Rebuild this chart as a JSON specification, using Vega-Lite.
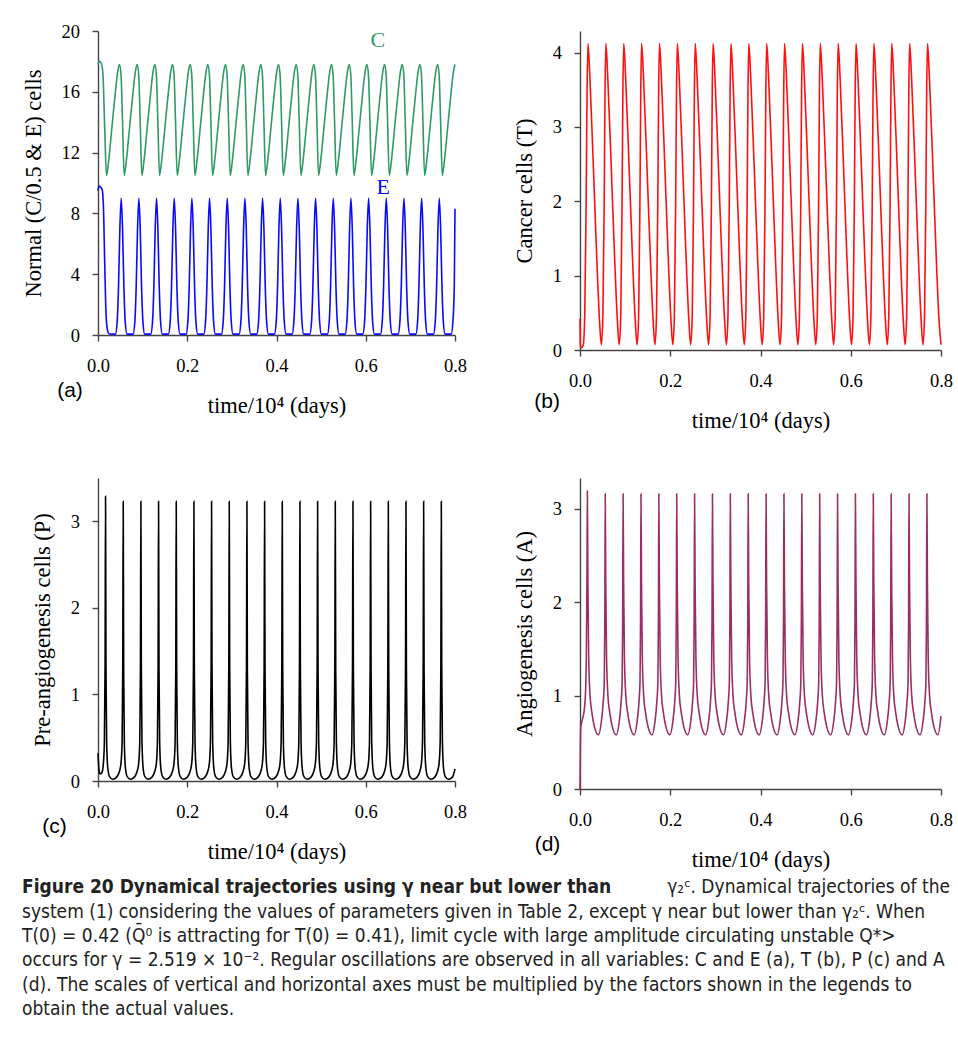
{
"$schema": "https://vega.github.io/schema/vega-lite/v6.json",
"background": "white",
"padding": {"left": 22, "top": 22, "right": 4, "bottom": 4},
"config": {
  "view": {"stroke": null},
  "line": {"interpolate": "monotone", "strokeWidth": 1.6},
  "axis": {"domainColor": "#444", "domainWidth": 1.4, "tickColor": "#444", "tickWidth": 1.4, "tickSize": 6, "grid": false,
    "labelFont": "Liberation Serif", "labelFontSize": 18.5, "labelColor": "#000",
    "titleFont": "Liberation Serif", "titleFontSize": 22.5, "titleFontWeight": "normal", "titleColor": "#000"},
  "axisX": {"labelFlush": false, "labelPadding": 15, "titlePadding": 20, "labelOverlap": false},
  "axisY": {"labelPadding": 12.5, "titlePadding": 16}
},
"datasets": {
"C": [
{"t":0,"v":17.85},{"t":0.003,"v":18},{"t":0.007,"v":17.9},{"t":0.011,"v":17.2},{"t":0.015,"v":13.6},
{"t":0.019,"v":10.5},{"t":0.024,"v":11.5},{"t":0.031,"v":13.6},{"t":0.039,"v":16},{"t":0.044,"v":17.3},{"t":0.048,"v":17.8},{"t":0.0515,"v":17.2},{"t":0.055,"v":14},
{"t":0.0586,"v":10.5},{"t":0.0636,"v":11.5},{"t":0.0706,"v":13.6},{"t":0.0786,"v":16},{"t":0.0836,"v":17.3},{"t":0.0876,"v":17.8},{"t":0.0911,"v":17.2},{"t":0.0946,"v":14},
{"t":0.0982,"v":10.5},{"t":0.1032,"v":11.5},{"t":0.1102,"v":13.6},{"t":0.1182,"v":16},{"t":0.1232,"v":17.3},{"t":0.1272,"v":17.8},{"t":0.1307,"v":17.2},{"t":0.1342,"v":14},
{"t":0.1378,"v":10.5},{"t":0.1428,"v":11.5},{"t":0.1498,"v":13.6},{"t":0.1578,"v":16},{"t":0.1628,"v":17.3},{"t":0.1668,"v":17.8},{"t":0.1703,"v":17.2},{"t":0.1738,"v":14},
{"t":0.1774,"v":10.5},{"t":0.1824,"v":11.5},{"t":0.1894,"v":13.6},{"t":0.1974,"v":16},{"t":0.2024,"v":17.3},{"t":0.2064,"v":17.8},{"t":0.2099,"v":17.2},{"t":0.2134,"v":14},
{"t":0.217,"v":10.5},{"t":0.222,"v":11.5},{"t":0.229,"v":13.6},{"t":0.237,"v":16},{"t":0.242,"v":17.3},{"t":0.246,"v":17.8},{"t":0.2495,"v":17.2},{"t":0.253,"v":14},
{"t":0.2566,"v":10.5},{"t":0.2616,"v":11.5},{"t":0.2686,"v":13.6},{"t":0.2766,"v":16},{"t":0.2816,"v":17.3},{"t":0.2856,"v":17.8},{"t":0.2891,"v":17.2},{"t":0.2926,"v":14},
{"t":0.2962,"v":10.5},{"t":0.3012,"v":11.5},{"t":0.3082,"v":13.6},{"t":0.3162,"v":16},{"t":0.3212,"v":17.3},{"t":0.3252,"v":17.8},{"t":0.3287,"v":17.2},{"t":0.3322,"v":14},
{"t":0.3358,"v":10.5},{"t":0.3408,"v":11.5},{"t":0.3478,"v":13.6},{"t":0.3558,"v":16},{"t":0.3608,"v":17.3},{"t":0.3648,"v":17.8},{"t":0.3683,"v":17.2},{"t":0.3718,"v":14},
{"t":0.3754,"v":10.5},{"t":0.3804,"v":11.5},{"t":0.3874,"v":13.6},{"t":0.3954,"v":16},{"t":0.4004,"v":17.3},{"t":0.4044,"v":17.8},{"t":0.4079,"v":17.2},{"t":0.4114,"v":14},
{"t":0.415,"v":10.5},{"t":0.42,"v":11.5},{"t":0.427,"v":13.6},{"t":0.435,"v":16},{"t":0.44,"v":17.3},{"t":0.444,"v":17.8},{"t":0.4475,"v":17.2},{"t":0.451,"v":14},
{"t":0.4546,"v":10.5},{"t":0.4596,"v":11.5},{"t":0.4666,"v":13.6},{"t":0.4746,"v":16},{"t":0.4796,"v":17.3},{"t":0.4836,"v":17.8},{"t":0.4871,"v":17.2},{"t":0.4906,"v":14},
{"t":0.4942,"v":10.5},{"t":0.4992,"v":11.5},{"t":0.5062,"v":13.6},{"t":0.5142,"v":16},{"t":0.5192,"v":17.3},{"t":0.5232,"v":17.8},{"t":0.5267,"v":17.2},{"t":0.5302,"v":14},
{"t":0.5338,"v":10.5},{"t":0.5388,"v":11.5},{"t":0.5458,"v":13.6},{"t":0.5538,"v":16},{"t":0.5588,"v":17.3},{"t":0.5628,"v":17.8},{"t":0.5663,"v":17.2},{"t":0.5698,"v":14},
{"t":0.5734,"v":10.5},{"t":0.5784,"v":11.5},{"t":0.5854,"v":13.6},{"t":0.5934,"v":16},{"t":0.5984,"v":17.3},{"t":0.6024,"v":17.8},{"t":0.6059,"v":17.2},{"t":0.6094,"v":14},
{"t":0.613,"v":10.5},{"t":0.618,"v":11.5},{"t":0.625,"v":13.6},{"t":0.633,"v":16},{"t":0.638,"v":17.3},{"t":0.642,"v":17.8},{"t":0.6455,"v":17.2},{"t":0.649,"v":14},
{"t":0.6526,"v":10.5},{"t":0.6576,"v":11.5},{"t":0.6646,"v":13.6},{"t":0.6726,"v":16},{"t":0.6776,"v":17.3},{"t":0.6816,"v":17.8},{"t":0.6851,"v":17.2},{"t":0.6886,"v":14},
{"t":0.6922,"v":10.5},{"t":0.6972,"v":11.5},{"t":0.7042,"v":13.6},{"t":0.7122,"v":16},{"t":0.7172,"v":17.3},{"t":0.7212,"v":17.8},{"t":0.7247,"v":17.2},{"t":0.7282,"v":14},
{"t":0.7318,"v":10.5},{"t":0.7368,"v":11.5},{"t":0.7438,"v":13.6},{"t":0.7518,"v":16},{"t":0.7568,"v":17.3},{"t":0.7608,"v":17.8},{"t":0.7643,"v":17.2},{"t":0.7678,"v":14},
{"t":0.7714,"v":10.5},{"t":0.7764,"v":11.5},{"t":0.7834,"v":13.6},{"t":0.7914,"v":16},{"t":0.7964,"v":17.3},{"t":0.8,"v":17.8}
],
"E": [
{"t":0,"v":9.5},{"t":0.002,"v":9.8},{"t":0.005,"v":9.75},{"t":0.009,"v":9.6},{"t":0.012,"v":8.6},{"t":0.015,"v":4.8},{"t":0.018,"v":1.4},{"t":0.021,"v":0.35},{"t":0.025,"v":0.07},
{"t":0.039,"v":0.06},{"t":0.043,"v":0.9},{"t":0.046,"v":3.2},{"t":0.049,"v":7},{"t":0.052,"v":9},{"t":0.055,"v":7},{"t":0.058,"v":3.2},{"t":0.061,"v":0.9},{"t":0.065,"v":0.06},
{"t":0.0786,"v":0.06},{"t":0.0826,"v":0.9},{"t":0.0856,"v":3.2},{"t":0.0886,"v":7},{"t":0.0916,"v":9},{"t":0.0946,"v":7},{"t":0.0976,"v":3.2},{"t":0.1006,"v":0.9},{"t":0.1046,"v":0.06},
{"t":0.1182,"v":0.06},{"t":0.1222,"v":0.9},{"t":0.1252,"v":3.2},{"t":0.1282,"v":7},{"t":0.1312,"v":9},{"t":0.1342,"v":7},{"t":0.1372,"v":3.2},{"t":0.1402,"v":0.9},{"t":0.1442,"v":0.06},
{"t":0.1578,"v":0.06},{"t":0.1618,"v":0.9},{"t":0.1648,"v":3.2},{"t":0.1678,"v":7},{"t":0.1708,"v":9},{"t":0.1738,"v":7},{"t":0.1768,"v":3.2},{"t":0.1798,"v":0.9},{"t":0.1838,"v":0.06},
{"t":0.1974,"v":0.06},{"t":0.2014,"v":0.9},{"t":0.2044,"v":3.2},{"t":0.2074,"v":7},{"t":0.2104,"v":9},{"t":0.2134,"v":7},{"t":0.2164,"v":3.2},{"t":0.2194,"v":0.9},{"t":0.2234,"v":0.06},
{"t":0.237,"v":0.06},{"t":0.241,"v":0.9},{"t":0.244,"v":3.2},{"t":0.247,"v":7},{"t":0.25,"v":9},{"t":0.253,"v":7},{"t":0.256,"v":3.2},{"t":0.259,"v":0.9},{"t":0.263,"v":0.06},
{"t":0.2766,"v":0.06},{"t":0.2806,"v":0.9},{"t":0.2836,"v":3.2},{"t":0.2866,"v":7},{"t":0.2896,"v":9},{"t":0.2926,"v":7},{"t":0.2956,"v":3.2},{"t":0.2986,"v":0.9},{"t":0.3026,"v":0.06},
{"t":0.3162,"v":0.06},{"t":0.3202,"v":0.9},{"t":0.3232,"v":3.2},{"t":0.3262,"v":7},{"t":0.3292,"v":9},{"t":0.3322,"v":7},{"t":0.3352,"v":3.2},{"t":0.3382,"v":0.9},{"t":0.3422,"v":0.06},
{"t":0.3558,"v":0.06},{"t":0.3598,"v":0.9},{"t":0.3628,"v":3.2},{"t":0.3658,"v":7},{"t":0.3688,"v":9},{"t":0.3718,"v":7},{"t":0.3748,"v":3.2},{"t":0.3778,"v":0.9},{"t":0.3818,"v":0.06},
{"t":0.3954,"v":0.06},{"t":0.3994,"v":0.9},{"t":0.4024,"v":3.2},{"t":0.4054,"v":7},{"t":0.4084,"v":9},{"t":0.4114,"v":7},{"t":0.4144,"v":3.2},{"t":0.4174,"v":0.9},{"t":0.4214,"v":0.06},
{"t":0.435,"v":0.06},{"t":0.439,"v":0.9},{"t":0.442,"v":3.2},{"t":0.445,"v":7},{"t":0.448,"v":9},{"t":0.451,"v":7},{"t":0.454,"v":3.2},{"t":0.457,"v":0.9},{"t":0.461,"v":0.06},
{"t":0.4746,"v":0.06},{"t":0.4786,"v":0.9},{"t":0.4816,"v":3.2},{"t":0.4846,"v":7},{"t":0.4876,"v":9},{"t":0.4906,"v":7},{"t":0.4936,"v":3.2},{"t":0.4966,"v":0.9},{"t":0.5006,"v":0.06},
{"t":0.5142,"v":0.06},{"t":0.5182,"v":0.9},{"t":0.5212,"v":3.2},{"t":0.5242,"v":7},{"t":0.5272,"v":9},{"t":0.5302,"v":7},{"t":0.5332,"v":3.2},{"t":0.5362,"v":0.9},{"t":0.5402,"v":0.06},
{"t":0.5538,"v":0.06},{"t":0.5578,"v":0.9},{"t":0.5608,"v":3.2},{"t":0.5638,"v":7},{"t":0.5668,"v":9},{"t":0.5698,"v":7},{"t":0.5728,"v":3.2},{"t":0.5758,"v":0.9},{"t":0.5798,"v":0.06},
{"t":0.5934,"v":0.06},{"t":0.5974,"v":0.9},{"t":0.6004,"v":3.2},{"t":0.6034,"v":7},{"t":0.6064,"v":9},{"t":0.6094,"v":7},{"t":0.6124,"v":3.2},{"t":0.6154,"v":0.9},{"t":0.6194,"v":0.06},
{"t":0.633,"v":0.06},{"t":0.637,"v":0.9},{"t":0.64,"v":3.2},{"t":0.643,"v":7},{"t":0.646,"v":9},{"t":0.649,"v":7},{"t":0.652,"v":3.2},{"t":0.655,"v":0.9},{"t":0.659,"v":0.06},
{"t":0.6726,"v":0.06},{"t":0.6766,"v":0.9},{"t":0.6796,"v":3.2},{"t":0.6826,"v":7},{"t":0.6856,"v":9},{"t":0.6886,"v":7},{"t":0.6916,"v":3.2},{"t":0.6946,"v":0.9},{"t":0.6986,"v":0.06},
{"t":0.7122,"v":0.06},{"t":0.7162,"v":0.9},{"t":0.7192,"v":3.2},{"t":0.7222,"v":7},{"t":0.7252,"v":9},{"t":0.7282,"v":7},{"t":0.7312,"v":3.2},{"t":0.7342,"v":0.9},{"t":0.7382,"v":0.06},
{"t":0.7518,"v":0.06},{"t":0.7558,"v":0.9},{"t":0.7588,"v":3.2},{"t":0.7618,"v":7},{"t":0.7648,"v":9},{"t":0.7678,"v":7},{"t":0.7708,"v":3.2},{"t":0.7738,"v":0.9},{"t":0.7778,"v":0.06},
{"t":0.7914,"v":0.06},{"t":0.7954,"v":0.9},{"t":0.7984,"v":3.2},{"t":0.8,"v":8.3}
],
"T": [
{"t":0,"v":0.42},{"t":0.0008,"v":0.05},{"t":0.003,"v":0.03},{"t":0.007,"v":0.06},{"t":0.0105,"v":0.45},{"t":0.0135,"v":1.9},{"t":0.0157,"v":3.5},
{"t":0.0177,"v":4.12},{"t":0.0217,"v":3.7},{"t":0.0297,"v":2.45},{"t":0.0377,"v":1.15},{"t":0.0432,"v":0.4},{"t":0.0473,"v":0.07},{"t":0.0507,"v":0.45},{"t":0.0535,"v":1.9},{"t":0.0555,"v":3.5},
{"t":0.0573,"v":4.12},{"t":0.0613,"v":3.7},{"t":0.0693,"v":2.45},{"t":0.0773,"v":1.15},{"t":0.0828,"v":0.4},{"t":0.0869,"v":0.07},{"t":0.0903,"v":0.45},{"t":0.0931,"v":1.9},{"t":0.0951,"v":3.5},
{"t":0.0969,"v":4.12},{"t":0.1009,"v":3.7},{"t":0.1089,"v":2.45},{"t":0.1169,"v":1.15},{"t":0.1224,"v":0.4},{"t":0.1265,"v":0.07},{"t":0.1299,"v":0.45},{"t":0.1327,"v":1.9},{"t":0.1347,"v":3.5},
{"t":0.1365,"v":4.12},{"t":0.1405,"v":3.7},{"t":0.1485,"v":2.45},{"t":0.1565,"v":1.15},{"t":0.162,"v":0.4},{"t":0.1661,"v":0.07},{"t":0.1695,"v":0.45},{"t":0.1723,"v":1.9},{"t":0.1743,"v":3.5},
{"t":0.1761,"v":4.12},{"t":0.1801,"v":3.7},{"t":0.1881,"v":2.45},{"t":0.1961,"v":1.15},{"t":0.2016,"v":0.4},{"t":0.2057,"v":0.07},{"t":0.2091,"v":0.45},{"t":0.2119,"v":1.9},{"t":0.2139,"v":3.5},
{"t":0.2157,"v":4.12},{"t":0.2197,"v":3.7},{"t":0.2277,"v":2.45},{"t":0.2357,"v":1.15},{"t":0.2412,"v":0.4},{"t":0.2453,"v":0.07},{"t":0.2487,"v":0.45},{"t":0.2515,"v":1.9},{"t":0.2535,"v":3.5},
{"t":0.2553,"v":4.12},{"t":0.2593,"v":3.7},{"t":0.2673,"v":2.45},{"t":0.2753,"v":1.15},{"t":0.2808,"v":0.4},{"t":0.2849,"v":0.07},{"t":0.2883,"v":0.45},{"t":0.2911,"v":1.9},{"t":0.2931,"v":3.5},
{"t":0.2949,"v":4.12},{"t":0.2989,"v":3.7},{"t":0.3069,"v":2.45},{"t":0.3149,"v":1.15},{"t":0.3204,"v":0.4},{"t":0.3245,"v":0.07},{"t":0.3279,"v":0.45},{"t":0.3307,"v":1.9},{"t":0.3327,"v":3.5},
{"t":0.3345,"v":4.12},{"t":0.3385,"v":3.7},{"t":0.3465,"v":2.45},{"t":0.3545,"v":1.15},{"t":0.36,"v":0.4},{"t":0.3641,"v":0.07},{"t":0.3675,"v":0.45},{"t":0.3703,"v":1.9},{"t":0.3723,"v":3.5},
{"t":0.3741,"v":4.12},{"t":0.3781,"v":3.7},{"t":0.3861,"v":2.45},{"t":0.3941,"v":1.15},{"t":0.3996,"v":0.4},{"t":0.4037,"v":0.07},{"t":0.4071,"v":0.45},{"t":0.4099,"v":1.9},{"t":0.4119,"v":3.5},
{"t":0.4137,"v":4.12},{"t":0.4177,"v":3.7},{"t":0.4257,"v":2.45},{"t":0.4337,"v":1.15},{"t":0.4392,"v":0.4},{"t":0.4433,"v":0.07},{"t":0.4467,"v":0.45},{"t":0.4495,"v":1.9},{"t":0.4515,"v":3.5},
{"t":0.4533,"v":4.12},{"t":0.4573,"v":3.7},{"t":0.4653,"v":2.45},{"t":0.4733,"v":1.15},{"t":0.4788,"v":0.4},{"t":0.4829,"v":0.07},{"t":0.4863,"v":0.45},{"t":0.4891,"v":1.9},{"t":0.4911,"v":3.5},
{"t":0.4929,"v":4.12},{"t":0.4969,"v":3.7},{"t":0.5049,"v":2.45},{"t":0.5129,"v":1.15},{"t":0.5184,"v":0.4},{"t":0.5225,"v":0.07},{"t":0.5259,"v":0.45},{"t":0.5287,"v":1.9},{"t":0.5307,"v":3.5},
{"t":0.5325,"v":4.12},{"t":0.5365,"v":3.7},{"t":0.5445,"v":2.45},{"t":0.5525,"v":1.15},{"t":0.558,"v":0.4},{"t":0.5621,"v":0.07},{"t":0.5655,"v":0.45},{"t":0.5683,"v":1.9},{"t":0.5703,"v":3.5},
{"t":0.5721,"v":4.12},{"t":0.5761,"v":3.7},{"t":0.5841,"v":2.45},{"t":0.5921,"v":1.15},{"t":0.5976,"v":0.4},{"t":0.6017,"v":0.07},{"t":0.6051,"v":0.45},{"t":0.6079,"v":1.9},{"t":0.6099,"v":3.5},
{"t":0.6117,"v":4.12},{"t":0.6157,"v":3.7},{"t":0.6237,"v":2.45},{"t":0.6317,"v":1.15},{"t":0.6372,"v":0.4},{"t":0.6413,"v":0.07},{"t":0.6447,"v":0.45},{"t":0.6475,"v":1.9},{"t":0.6495,"v":3.5},
{"t":0.6513,"v":4.12},{"t":0.6553,"v":3.7},{"t":0.6633,"v":2.45},{"t":0.6713,"v":1.15},{"t":0.6768,"v":0.4},{"t":0.6809,"v":0.07},{"t":0.6843,"v":0.45},{"t":0.6871,"v":1.9},{"t":0.6891,"v":3.5},
{"t":0.6909,"v":4.12},{"t":0.6949,"v":3.7},{"t":0.7029,"v":2.45},{"t":0.7109,"v":1.15},{"t":0.7164,"v":0.4},{"t":0.7205,"v":0.07},{"t":0.7239,"v":0.45},{"t":0.7267,"v":1.9},{"t":0.7287,"v":3.5},
{"t":0.7305,"v":4.12},{"t":0.7345,"v":3.7},{"t":0.7425,"v":2.45},{"t":0.7505,"v":1.15},{"t":0.756,"v":0.4},{"t":0.7601,"v":0.07},{"t":0.7635,"v":0.45},{"t":0.7663,"v":1.9},{"t":0.7683,"v":3.5},
{"t":0.7701,"v":4.12},{"t":0.7741,"v":3.7},{"t":0.7821,"v":2.45},{"t":0.7901,"v":1.15},{"t":0.7956,"v":0.4},{"t":0.8,"v":0.07}
],
"P": [
{"t":0,"v":0.32},{"t":0.002,"v":0.14},{"t":0.005,"v":0.08},{"t":0.009,"v":0.1},{"t":0.012,"v":0.2},{"t":0.0143,"v":0.45},{"t":0.0159,"v":1.35},
{"t":0.0169,"v":3.29},{"t":0.0179,"v":1.3},{"t":0.0194,"v":0.45},{"t":0.0219,"v":0.15},{"t":0.0259,"v":0.05},{"t":0.0329,"v":0.02},{"t":0.0419,"v":0.045},{"t":0.0479,"v":0.11},{"t":0.0515,"v":0.2},{"t":0.054,"v":0.45},{"t":0.0555,"v":1.3},
{"t":0.0565,"v":3.23},{"t":0.0575,"v":1.3},{"t":0.059,"v":0.45},{"t":0.0615,"v":0.15},{"t":0.0655,"v":0.05},{"t":0.0725,"v":0.02},{"t":0.0815,"v":0.045},{"t":0.0875,"v":0.11},{"t":0.0911,"v":0.2},{"t":0.0936,"v":0.45},{"t":0.0951,"v":1.3},
{"t":0.0961,"v":3.23},{"t":0.0971,"v":1.3},{"t":0.0986,"v":0.45},{"t":0.1011,"v":0.15},{"t":0.1051,"v":0.05},{"t":0.1121,"v":0.02},{"t":0.1211,"v":0.045},{"t":0.1271,"v":0.11},{"t":0.1307,"v":0.2},{"t":0.1332,"v":0.45},{"t":0.1347,"v":1.3},
{"t":0.1357,"v":3.23},{"t":0.1367,"v":1.3},{"t":0.1382,"v":0.45},{"t":0.1407,"v":0.15},{"t":0.1447,"v":0.05},{"t":0.1517,"v":0.02},{"t":0.1607,"v":0.045},{"t":0.1667,"v":0.11},{"t":0.1703,"v":0.2},{"t":0.1728,"v":0.45},{"t":0.1743,"v":1.3},
{"t":0.1753,"v":3.23},{"t":0.1763,"v":1.3},{"t":0.1778,"v":0.45},{"t":0.1803,"v":0.15},{"t":0.1843,"v":0.05},{"t":0.1913,"v":0.02},{"t":0.2003,"v":0.045},{"t":0.2063,"v":0.11},{"t":0.2099,"v":0.2},{"t":0.2124,"v":0.45},{"t":0.2139,"v":1.3},
{"t":0.2149,"v":3.23},{"t":0.2159,"v":1.3},{"t":0.2174,"v":0.45},{"t":0.2199,"v":0.15},{"t":0.2239,"v":0.05},{"t":0.2309,"v":0.02},{"t":0.2399,"v":0.045},{"t":0.2459,"v":0.11},{"t":0.2495,"v":0.2},{"t":0.252,"v":0.45},{"t":0.2535,"v":1.3},
{"t":0.2545,"v":3.23},{"t":0.2555,"v":1.3},{"t":0.257,"v":0.45},{"t":0.2595,"v":0.15},{"t":0.2635,"v":0.05},{"t":0.2705,"v":0.02},{"t":0.2795,"v":0.045},{"t":0.2855,"v":0.11},{"t":0.2891,"v":0.2},{"t":0.2916,"v":0.45},{"t":0.2931,"v":1.3},
{"t":0.2941,"v":3.23},{"t":0.2951,"v":1.3},{"t":0.2966,"v":0.45},{"t":0.2991,"v":0.15},{"t":0.3031,"v":0.05},{"t":0.3101,"v":0.02},{"t":0.3191,"v":0.045},{"t":0.3251,"v":0.11},{"t":0.3287,"v":0.2},{"t":0.3312,"v":0.45},{"t":0.3327,"v":1.3},
{"t":0.3337,"v":3.23},{"t":0.3347,"v":1.3},{"t":0.3362,"v":0.45},{"t":0.3387,"v":0.15},{"t":0.3427,"v":0.05},{"t":0.3497,"v":0.02},{"t":0.3587,"v":0.045},{"t":0.3647,"v":0.11},{"t":0.3683,"v":0.2},{"t":0.3708,"v":0.45},{"t":0.3723,"v":1.3},
{"t":0.3733,"v":3.23},{"t":0.3743,"v":1.3},{"t":0.3758,"v":0.45},{"t":0.3783,"v":0.15},{"t":0.3823,"v":0.05},{"t":0.3893,"v":0.02},{"t":0.3983,"v":0.045},{"t":0.4043,"v":0.11},{"t":0.4079,"v":0.2},{"t":0.4104,"v":0.45},{"t":0.4119,"v":1.3},
{"t":0.4129,"v":3.23},{"t":0.4139,"v":1.3},{"t":0.4154,"v":0.45},{"t":0.4179,"v":0.15},{"t":0.4219,"v":0.05},{"t":0.4289,"v":0.02},{"t":0.4379,"v":0.045},{"t":0.4439,"v":0.11},{"t":0.4475,"v":0.2},{"t":0.45,"v":0.45},{"t":0.4515,"v":1.3},
{"t":0.4525,"v":3.23},{"t":0.4535,"v":1.3},{"t":0.455,"v":0.45},{"t":0.4575,"v":0.15},{"t":0.4615,"v":0.05},{"t":0.4685,"v":0.02},{"t":0.4775,"v":0.045},{"t":0.4835,"v":0.11},{"t":0.4871,"v":0.2},{"t":0.4896,"v":0.45},{"t":0.4911,"v":1.3},
{"t":0.4921,"v":3.23},{"t":0.4931,"v":1.3},{"t":0.4946,"v":0.45},{"t":0.4971,"v":0.15},{"t":0.5011,"v":0.05},{"t":0.5081,"v":0.02},{"t":0.5171,"v":0.045},{"t":0.5231,"v":0.11},{"t":0.5267,"v":0.2},{"t":0.5292,"v":0.45},{"t":0.5307,"v":1.3},
{"t":0.5317,"v":3.23},{"t":0.5327,"v":1.3},{"t":0.5342,"v":0.45},{"t":0.5367,"v":0.15},{"t":0.5407,"v":0.05},{"t":0.5477,"v":0.02},{"t":0.5567,"v":0.045},{"t":0.5627,"v":0.11},{"t":0.5663,"v":0.2},{"t":0.5688,"v":0.45},{"t":0.5703,"v":1.3},
{"t":0.5713,"v":3.23},{"t":0.5723,"v":1.3},{"t":0.5738,"v":0.45},{"t":0.5763,"v":0.15},{"t":0.5803,"v":0.05},{"t":0.5873,"v":0.02},{"t":0.5963,"v":0.045},{"t":0.6023,"v":0.11},{"t":0.6059,"v":0.2},{"t":0.6084,"v":0.45},{"t":0.6099,"v":1.3},
{"t":0.6109,"v":3.23},{"t":0.6119,"v":1.3},{"t":0.6134,"v":0.45},{"t":0.6159,"v":0.15},{"t":0.6199,"v":0.05},{"t":0.6269,"v":0.02},{"t":0.6359,"v":0.045},{"t":0.6419,"v":0.11},{"t":0.6455,"v":0.2},{"t":0.648,"v":0.45},{"t":0.6495,"v":1.3},
{"t":0.6505,"v":3.23},{"t":0.6515,"v":1.3},{"t":0.653,"v":0.45},{"t":0.6555,"v":0.15},{"t":0.6595,"v":0.05},{"t":0.6665,"v":0.02},{"t":0.6755,"v":0.045},{"t":0.6815,"v":0.11},{"t":0.6851,"v":0.2},{"t":0.6876,"v":0.45},{"t":0.6891,"v":1.3},
{"t":0.6901,"v":3.23},{"t":0.6911,"v":1.3},{"t":0.6926,"v":0.45},{"t":0.6951,"v":0.15},{"t":0.6991,"v":0.05},{"t":0.7061,"v":0.02},{"t":0.7151,"v":0.045},{"t":0.7211,"v":0.11},{"t":0.7247,"v":0.2},{"t":0.7272,"v":0.45},{"t":0.7287,"v":1.3},
{"t":0.7297,"v":3.23},{"t":0.7307,"v":1.3},{"t":0.7322,"v":0.45},{"t":0.7347,"v":0.15},{"t":0.7387,"v":0.05},{"t":0.7457,"v":0.02},{"t":0.7547,"v":0.045},{"t":0.7607,"v":0.11},{"t":0.7643,"v":0.2},{"t":0.7668,"v":0.45},{"t":0.7683,"v":1.3},
{"t":0.7693,"v":3.23},{"t":0.7703,"v":1.3},{"t":0.7718,"v":0.45},{"t":0.7743,"v":0.15},{"t":0.7783,"v":0.05},{"t":0.7853,"v":0.02},{"t":0.7943,"v":0.045},{"t":0.8,"v":0.14}
],
"A": [
{"t":0,"v":0},{"t":0.0008,"v":0.45},{"t":0.0016,"v":0.65},{"t":0.005,"v":0.74},{"t":0.009,"v":0.83},{"t":0.012,"v":1},{"t":0.0142,"v":1.5},{"t":0.0155,"v":2.3},
{"t":0.0163,"v":3.19},{"t":0.0175,"v":2.2},{"t":0.0193,"v":1.4},{"t":0.0223,"v":1},{"t":0.0263,"v":0.82},{"t":0.0323,"v":0.66},{"t":0.0408,"v":0.58},{"t":0.0473,"v":0.72},{"t":0.0513,"v":0.92},{"t":0.0538,"v":1.15},{"t":0.055,"v":1.8},
{"t":0.0559,"v":3.16},{"t":0.0571,"v":2.2},{"t":0.0589,"v":1.4},{"t":0.0619,"v":1},{"t":0.0659,"v":0.82},{"t":0.0719,"v":0.66},{"t":0.0804,"v":0.58},{"t":0.0869,"v":0.72},{"t":0.0909,"v":0.92},{"t":0.0934,"v":1.15},{"t":0.0946,"v":1.8},
{"t":0.0955,"v":3.16},{"t":0.0967,"v":2.2},{"t":0.0985,"v":1.4},{"t":0.1015,"v":1},{"t":0.1055,"v":0.82},{"t":0.1115,"v":0.66},{"t":0.12,"v":0.58},{"t":0.1265,"v":0.72},{"t":0.1305,"v":0.92},{"t":0.133,"v":1.15},{"t":0.1342,"v":1.8},
{"t":0.1351,"v":3.16},{"t":0.1363,"v":2.2},{"t":0.1381,"v":1.4},{"t":0.1411,"v":1},{"t":0.1451,"v":0.82},{"t":0.1511,"v":0.66},{"t":0.1596,"v":0.58},{"t":0.1661,"v":0.72},{"t":0.1701,"v":0.92},{"t":0.1726,"v":1.15},{"t":0.1738,"v":1.8},
{"t":0.1747,"v":3.16},{"t":0.1759,"v":2.2},{"t":0.1777,"v":1.4},{"t":0.1807,"v":1},{"t":0.1847,"v":0.82},{"t":0.1907,"v":0.66},{"t":0.1992,"v":0.58},{"t":0.2057,"v":0.72},{"t":0.2097,"v":0.92},{"t":0.2122,"v":1.15},{"t":0.2134,"v":1.8},
{"t":0.2143,"v":3.16},{"t":0.2155,"v":2.2},{"t":0.2173,"v":1.4},{"t":0.2203,"v":1},{"t":0.2243,"v":0.82},{"t":0.2303,"v":0.66},{"t":0.2388,"v":0.58},{"t":0.2453,"v":0.72},{"t":0.2493,"v":0.92},{"t":0.2518,"v":1.15},{"t":0.253,"v":1.8},
{"t":0.2539,"v":3.16},{"t":0.2551,"v":2.2},{"t":0.2569,"v":1.4},{"t":0.2599,"v":1},{"t":0.2639,"v":0.82},{"t":0.2699,"v":0.66},{"t":0.2784,"v":0.58},{"t":0.2849,"v":0.72},{"t":0.2889,"v":0.92},{"t":0.2914,"v":1.15},{"t":0.2926,"v":1.8},
{"t":0.2935,"v":3.16},{"t":0.2947,"v":2.2},{"t":0.2965,"v":1.4},{"t":0.2995,"v":1},{"t":0.3035,"v":0.82},{"t":0.3095,"v":0.66},{"t":0.318,"v":0.58},{"t":0.3245,"v":0.72},{"t":0.3285,"v":0.92},{"t":0.331,"v":1.15},{"t":0.3322,"v":1.8},
{"t":0.3331,"v":3.16},{"t":0.3343,"v":2.2},{"t":0.3361,"v":1.4},{"t":0.3391,"v":1},{"t":0.3431,"v":0.82},{"t":0.3491,"v":0.66},{"t":0.3576,"v":0.58},{"t":0.3641,"v":0.72},{"t":0.3681,"v":0.92},{"t":0.3706,"v":1.15},{"t":0.3718,"v":1.8},
{"t":0.3727,"v":3.16},{"t":0.3739,"v":2.2},{"t":0.3757,"v":1.4},{"t":0.3787,"v":1},{"t":0.3827,"v":0.82},{"t":0.3887,"v":0.66},{"t":0.3972,"v":0.58},{"t":0.4037,"v":0.72},{"t":0.4077,"v":0.92},{"t":0.4102,"v":1.15},{"t":0.4114,"v":1.8},
{"t":0.4123,"v":3.16},{"t":0.4135,"v":2.2},{"t":0.4153,"v":1.4},{"t":0.4183,"v":1},{"t":0.4223,"v":0.82},{"t":0.4283,"v":0.66},{"t":0.4368,"v":0.58},{"t":0.4433,"v":0.72},{"t":0.4473,"v":0.92},{"t":0.4498,"v":1.15},{"t":0.451,"v":1.8},
{"t":0.4519,"v":3.16},{"t":0.4531,"v":2.2},{"t":0.4549,"v":1.4},{"t":0.4579,"v":1},{"t":0.4619,"v":0.82},{"t":0.4679,"v":0.66},{"t":0.4764,"v":0.58},{"t":0.4829,"v":0.72},{"t":0.4869,"v":0.92},{"t":0.4894,"v":1.15},{"t":0.4906,"v":1.8},
{"t":0.4915,"v":3.16},{"t":0.4927,"v":2.2},{"t":0.4945,"v":1.4},{"t":0.4975,"v":1},{"t":0.5015,"v":0.82},{"t":0.5075,"v":0.66},{"t":0.516,"v":0.58},{"t":0.5225,"v":0.72},{"t":0.5265,"v":0.92},{"t":0.529,"v":1.15},{"t":0.5302,"v":1.8},
{"t":0.5311,"v":3.16},{"t":0.5323,"v":2.2},{"t":0.5341,"v":1.4},{"t":0.5371,"v":1},{"t":0.5411,"v":0.82},{"t":0.5471,"v":0.66},{"t":0.5556,"v":0.58},{"t":0.5621,"v":0.72},{"t":0.5661,"v":0.92},{"t":0.5686,"v":1.15},{"t":0.5698,"v":1.8},
{"t":0.5707,"v":3.16},{"t":0.5719,"v":2.2},{"t":0.5737,"v":1.4},{"t":0.5767,"v":1},{"t":0.5807,"v":0.82},{"t":0.5867,"v":0.66},{"t":0.5952,"v":0.58},{"t":0.6017,"v":0.72},{"t":0.6057,"v":0.92},{"t":0.6082,"v":1.15},{"t":0.6094,"v":1.8},
{"t":0.6103,"v":3.16},{"t":0.6115,"v":2.2},{"t":0.6133,"v":1.4},{"t":0.6163,"v":1},{"t":0.6203,"v":0.82},{"t":0.6263,"v":0.66},{"t":0.6348,"v":0.58},{"t":0.6413,"v":0.72},{"t":0.6453,"v":0.92},{"t":0.6478,"v":1.15},{"t":0.649,"v":1.8},
{"t":0.6499,"v":3.16},{"t":0.6511,"v":2.2},{"t":0.6529,"v":1.4},{"t":0.6559,"v":1},{"t":0.6599,"v":0.82},{"t":0.6659,"v":0.66},{"t":0.6744,"v":0.58},{"t":0.6809,"v":0.72},{"t":0.6849,"v":0.92},{"t":0.6874,"v":1.15},{"t":0.6886,"v":1.8},
{"t":0.6895,"v":3.16},{"t":0.6907,"v":2.2},{"t":0.6925,"v":1.4},{"t":0.6955,"v":1},{"t":0.6995,"v":0.82},{"t":0.7055,"v":0.66},{"t":0.714,"v":0.58},{"t":0.7205,"v":0.72},{"t":0.7245,"v":0.92},{"t":0.727,"v":1.15},{"t":0.7282,"v":1.8},
{"t":0.7291,"v":3.16},{"t":0.7303,"v":2.2},{"t":0.7321,"v":1.4},{"t":0.7351,"v":1},{"t":0.7391,"v":0.82},{"t":0.7451,"v":0.66},{"t":0.7536,"v":0.58},{"t":0.7601,"v":0.72},{"t":0.7641,"v":0.92},{"t":0.7666,"v":1.15},{"t":0.7678,"v":1.8},
{"t":0.7687,"v":3.16},{"t":0.7699,"v":2.2},{"t":0.7717,"v":1.4},{"t":0.7747,"v":1},{"t":0.7787,"v":0.82},{"t":0.7847,"v":0.66},{"t":0.7932,"v":0.58},{"t":0.8,"v":0.78}
],
"cap": [
{"line":1,"seg":"b","text":"Figure 20 Dynamical trajectories using γ near but lower than"},
{"line":1,"seg":"r","text":"γ₂ᶜ. Dynamical trajectories of the"},
{"line":2,"seg":"n","text":"system (1) considering the values of parameters given in Table 2, except γ near but lower than  γ₂ᶜ. When"},
{"line":3,"seg":"n","text":"T(0) = 0.42 (Q̄⁰ is attracting for T(0) = 0.41), limit cycle with large amplitude circulating unstable Q*>"},
{"line":4,"seg":"n","text":"occurs for γ = 2.519 × 10⁻². Regular oscillations are observed in all variables: C and E (a), T (b), P (c) and A"},
{"line":5,"seg":"n","text":"(d). The scales of vertical and horizontal axes must be multiplied by the factors shown in the legends to"},
{"line":6,"seg":"n","text":"obtain the actual values."}
]
},
"vconcat": [
{"vconcat": [
 {"hconcat": [
  {"width": 357, "height": 304,
   "layer": [
    {"data": {"name": "C"}, "mark": {"type": "line", "color": "#2f9a66"},
     "encoding": {
      "x": {"field": "t", "type": "quantitative", "scale": {"domain": [0, 0.8], "nice": false}, "axis": {"values": [0, 0.2, 0.4, 0.6, 0.8], "format": ".1f", "title": "time/10⁴ (days)"}},
      "y": {"field": "v", "type": "quantitative", "scale": {"domain": [0, 20], "nice": false}, "axis": {"values": [0, 4, 8, 12, 16, 20], "format": "d", "title": "Normal (C/0.5 & E) cells"}}}},
    {"data": {"name": "E"}, "mark": {"type": "line", "color": "#0a0aff"},
     "encoding": {"x": {"field": "t", "type": "quantitative"}, "y": {"field": "v", "type": "quantitative"}}},
    {"data": {"values": [{}]}, "mark": {"type": "text", "text": "C", "font": "Liberation Serif", "fontSize": 22, "color": "#2f9a66", "baseline": "middle"},
     "encoding": {"x": {"datum": 0.627, "type": "quantitative"}, "y": {"datum": 19.4, "type": "quantitative"}}},
    {"data": {"values": [{}]}, "mark": {"type": "text", "text": "E", "font": "Liberation Serif", "fontSize": 22, "color": "#0a0aff", "baseline": "middle"},
     "encoding": {"x": {"datum": 0.639, "type": "quantitative"}, "y": {"datum": 9.72, "type": "quantitative"}}},
    {"data": {"values": [{}]}, "mark": {"type": "text", "text": "(a)", "font": "Liberation Sans", "fontSize": 21, "color": "#000", "baseline": "middle"},
     "encoding": {"x": {"datum": -0.0627, "type": "quantitative"}, "y": {"datum": -3.66, "type": "quantitative"}}}
   ]},
  {"width": 361, "height": 319,
   "layer": [
    {"data": {"name": "T"}, "mark": {"type": "line", "color": "#ff1010"},
     "encoding": {
      "x": {"field": "t", "type": "quantitative", "scale": {"domain": [0, 0.8], "nice": false}, "axis": {"values": [0, 0.2, 0.4, 0.6, 0.8], "format": ".1f", "title": "time/10⁴ (days)"}},
      "y": {"field": "v", "type": "quantitative", "scale": {"domain": [0, 4.29], "nice": false}, "axis": {"values": [0, 1, 2, 3, 4], "format": "d", "title": "Cancer cells (T)"}}}},
    {"data": {"values": [{}]}, "mark": {"type": "text", "text": "(b)", "font": "Liberation Sans", "fontSize": 21, "color": "#000", "baseline": "middle"},
     "encoding": {"x": {"datum": -0.0727, "type": "quantitative"}, "y": {"datum": -0.703, "type": "quantitative"}}}
   ]}
 ], "spacing": 46},
 {"hconcat": [
  {"width": 357, "height": 303,
   "layer": [
    {"data": {"name": "P"}, "mark": {"type": "line", "color": "#000000"},
     "encoding": {
      "x": {"field": "t", "type": "quantitative", "scale": {"domain": [0, 0.8], "nice": false}, "axis": {"values": [0, 0.2, 0.4, 0.6, 0.8], "format": ".1f", "title": "time/10⁴ (days)"}},
      "y": {"field": "v", "type": "quantitative", "scale": {"domain": [0, 3.5], "nice": false}, "axis": {"values": [0, 1, 2, 3], "format": "d", "title": "Pre-angiogenesis cells (P)"}}}},
    {"data": {"values": [{}]}, "mark": {"type": "text", "text": "(c)", "font": "Liberation Sans", "fontSize": 21, "color": "#000", "baseline": "middle"},
     "encoding": {"x": {"datum": -0.0975, "type": "quantitative"}, "y": {"datum": -0.535, "type": "quantitative"}}}
   ]},
  {"width": 361, "height": 311,
   "layer": [
    {"data": {"name": "A"}, "mark": {"type": "line", "color": "#9b2f63"},
     "encoding": {
      "x": {"field": "t", "type": "quantitative", "scale": {"domain": [0, 0.8], "nice": false}, "axis": {"values": [0, 0.2, 0.4, 0.6, 0.8], "format": ".1f", "title": "time/10⁴ (days)"}},
      "y": {"field": "v", "type": "quantitative", "scale": {"domain": [0, 3.33], "nice": false}, "axis": {"values": [0, 1, 2, 3], "format": "d", "title": "Angiogenesis cells (A)"}}}},
    {"data": {"values": [{}]}, "mark": {"type": "text", "text": "(d)", "font": "Liberation Sans", "fontSize": 21, "color": "#000", "baseline": "middle"},
     "encoding": {"x": {"datum": -0.072, "type": "quantitative"}, "y": {"datum": -0.6, "type": "quantitative"}}}
   ]}
 ], "spacing": 46}
], "spacing": 46},
{"width": 852, "height": 146,
 "data": {"name": "cap"},
 "encoding": {
   "y": {"field": "line", "type": "quantitative", "scale": {"domain": [0.5, 6.5], "reverse": true, "nice": false, "zero": false}, "axis": null},
   "text": {"field": "text"}},
 "layer": [
  {"transform": [{"filter": "datum.seg === 'b'"}],
   "mark": {"type": "text", "align": "left", "baseline": "middle", "font": "DejaVu Sans Condensed, sans-serif", "fontSize": 19, "fontWeight": "bold", "color": "#222", "dx": -76},
   "encoding": {"x": {"datum": 0, "type": "quantitative", "scale": {"domain": [0, 1]}, "axis": null}}},
  {"transform": [{"filter": "datum.seg === 'r'"}],
   "mark": {"type": "text", "align": "right", "baseline": "middle", "font": "DejaVu Sans Condensed, sans-serif", "fontSize": 19, "color": "#222"},
   "encoding": {"x": {"datum": 1, "type": "quantitative", "scale": {"domain": [0, 1]}, "axis": null}}},
  {"transform": [{"filter": "datum.seg === 'n'"}],
   "mark": {"type": "text", "align": "left", "baseline": "middle", "font": "DejaVu Sans Condensed, sans-serif", "fontSize": 19, "color": "#222", "dx": -76},
   "encoding": {"x": {"datum": 0, "type": "quantitative", "scale": {"domain": [0, 1]}, "axis": null}}}
 ]}
],
"spacing": 4
}
